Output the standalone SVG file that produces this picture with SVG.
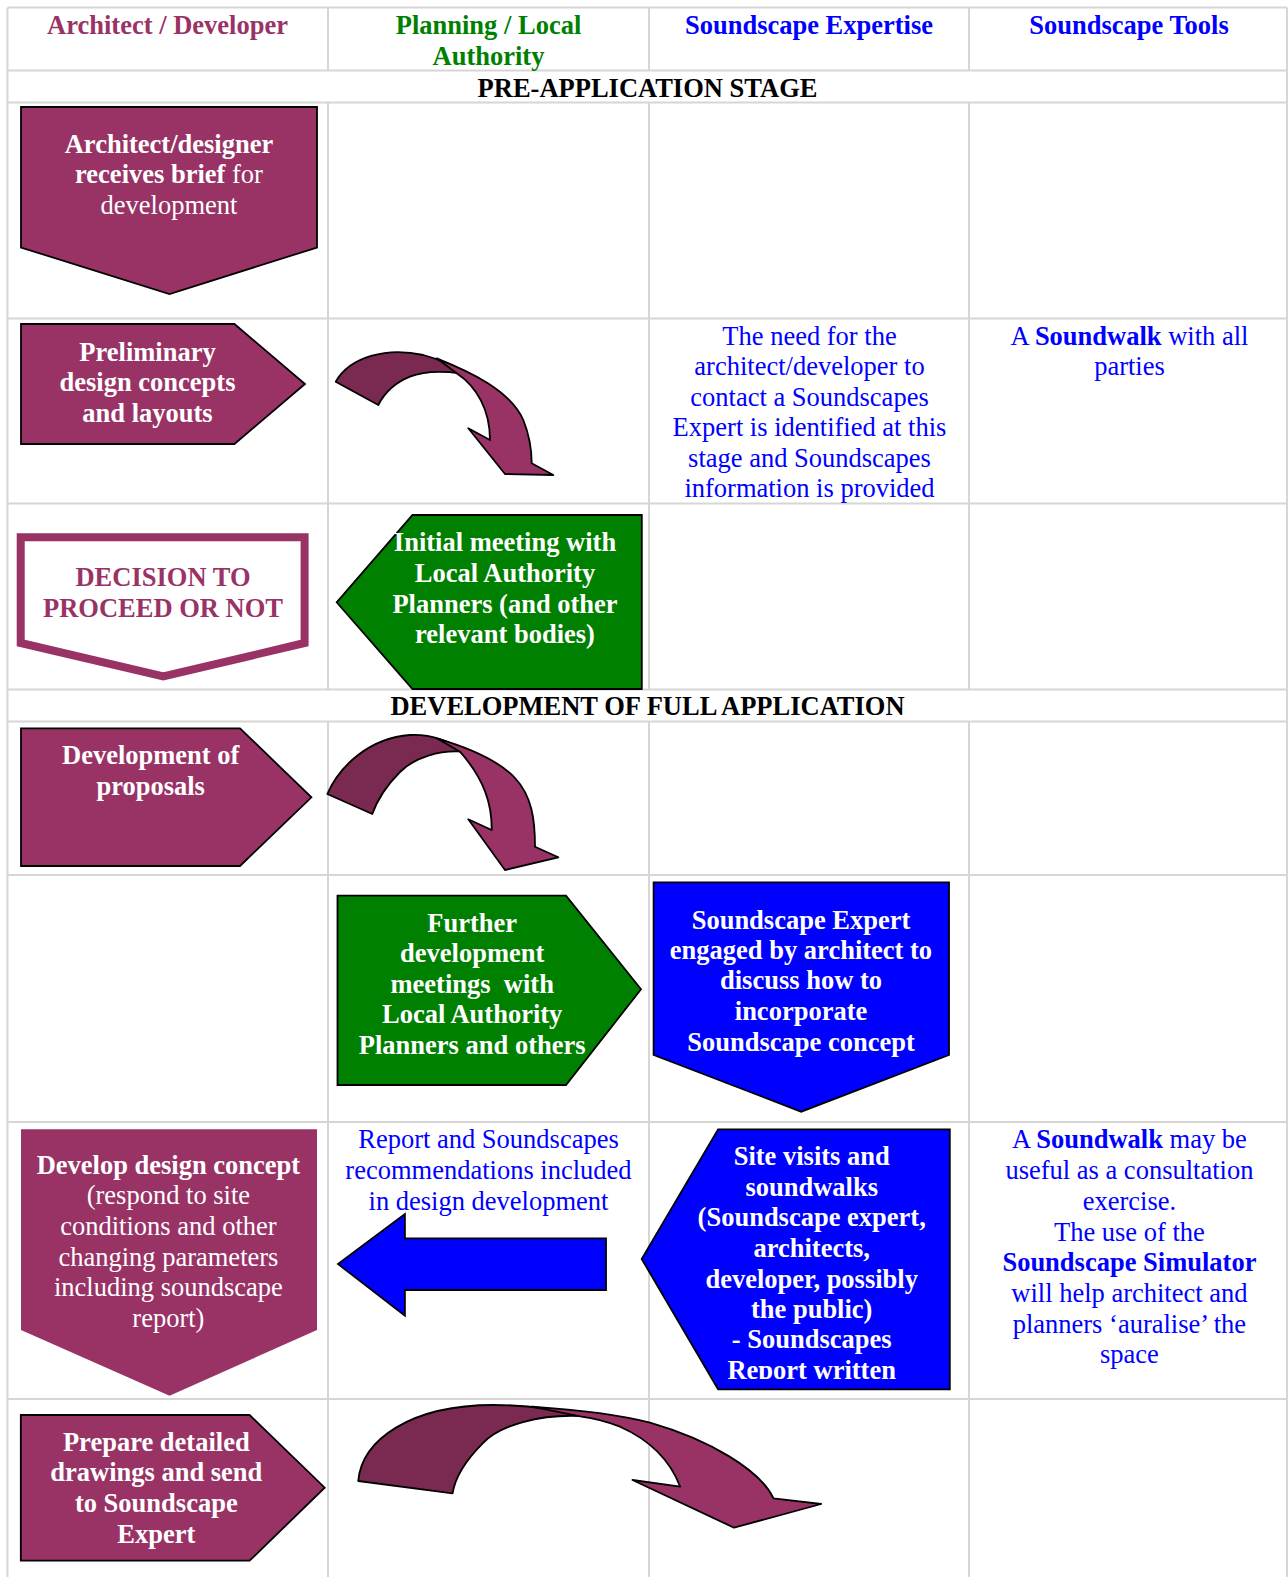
<svg xmlns="http://www.w3.org/2000/svg" width="1288" height="1577" viewBox="0 0 1288 1577">
<style>
text{font-family:"Liberation Serif","Times New Roman",serif;font-size:26.5px;text-anchor:middle}
.b{font-weight:bold}
.w{fill:#ffffff}
.m{fill:#993366}
.g{fill:#008000}
.bl{fill:#0000ff}
.k{fill:#000000}
.grid line{stroke:#d6d6d6;stroke-width:2}
.sh{stroke:#000;stroke-width:1.8;stroke-linejoin:miter}
.arr{stroke:#000;stroke-width:1.8;stroke-linejoin:round}
</style>
<defs>
<clipPath id="clipSite"><rect x="640" y="1125" width="315" height="254"/></clipPath>
</defs>
<rect x="0" y="0" width="1288" height="1577" fill="#ffffff"/>
<g id="grid" class="grid">
<line x1="7.5" y1="7.5" x2="1287" y2="7.5"/>
<line x1="7.5" y1="70.5" x2="1287" y2="70.5"/>
<line x1="7.5" y1="102.5" x2="1287" y2="102.5"/>
<line x1="7.5" y1="318.5" x2="1287" y2="318.5"/>
<line x1="7.5" y1="503.5" x2="1287" y2="503.5"/>
<line x1="7.5" y1="689.5" x2="1287" y2="689.5"/>
<line x1="7.5" y1="721.5" x2="1287" y2="721.5"/>
<line x1="7.5" y1="875" x2="1287" y2="875"/>
<line x1="7.5" y1="1122" x2="1287" y2="1122"/>
<line x1="7.5" y1="1399" x2="1287" y2="1399"/>
<line x1="7.5" y1="7.5" x2="7.5" y2="1577"/>
<line x1="1287" y1="7.5" x2="1287" y2="1577"/>
<line x1="328" y1="7.5" x2="328" y2="70.5"/>
<line x1="649" y1="7.5" x2="649" y2="70.5"/>
<line x1="969" y1="7.5" x2="969" y2="70.5"/>
<line x1="328" y1="102.5" x2="328" y2="689.5"/>
<line x1="649" y1="102.5" x2="649" y2="689.5"/>
<line x1="969" y1="102.5" x2="969" y2="689.5"/>
<line x1="328" y1="721.5" x2="328" y2="1577"/>
<line x1="649" y1="721.5" x2="649" y2="1577"/>
<line x1="969" y1="721.5" x2="969" y2="1577"/>
</g>
<g id="headers">
<text class="b m" x="167.5" y="34">Architect / Developer</text>
<text class="b g" x="488.5" y="34">Planning / Local</text>
<text class="b g" x="488.5" y="64.5">Authority</text>
<text class="b bl" x="809" y="34">Soundscape Expertise</text>
<text class="b bl" x="1129" y="34">Soundscape Tools</text>
<text class="b k" x="647.5" y="96.5">PRE-APPLICATION STAGE</text>
<text class="b k" x="647.5" y="715">DEVELOPMENT OF FULL APPLICATION</text>
</g>
<g id="connectors">
<g id="curved1">
<path class="arr" fill="#7a2950" d="M335.7,381.7 C350,356.7 386.7,346.7 423.3,355 C440,359.3 453.3,366.7 460,373.3 C446.7,371.7 426.7,370 410,376.7 C396.7,382 385,392 378.3,405 Z"/>
<path class="arr" fill="#993366" d="M436.7,358.3 C470,371.7 510,390 523.3,420 C530,436.7 531.7,450 531.7,463.3 L553.3,475 L505,474 L468.3,428.3 L490,440 C490,410 476.7,386.7 456.7,373.3 Z"/>
</g>
<g id="curved2">
<path class="arr" fill="#7a2950" d="M327.3,794 C340,765 370,738 410,735 C432,734 452,742 463,751.7 C440,750 415,757 400,772 C388,784 378,798 372.3,814 Z"/>
<path class="arr" fill="#993366" d="M436.7,738.3 C470,748 500,762 515,778 C532,796 535,820 535,846.7 L558.3,857.3 L505,870 L468.3,819.3 L491.7,830 C492,805 485,780 460,751.7 Z"/>
</g>
<g id="leftArrow">
<path class="sh" fill="#0000ff" d="M338,1264 L404.9,1214 L404.9,1238.3 L606,1238.3 L606,1290 L404.9,1290 L404.9,1315.7 Z"/>
</g>
<g id="curved3">
<path class="arr" fill="#7a2950" d="M358.2,1481 C362,1440 410,1405 493.7,1405 C530,1405 560,1410 581.5,1416 C540,1414 500,1425 482.7,1443.3 C466,1460 455,1478 452.6,1493.3 Z"/>
<path class="arr" fill="#993366" d="M532,1406.7 C580,1410 620,1415 650,1422.7 C710,1440 760,1470 773.5,1498.3 L821.2,1504 L734,1527.7 L632.5,1480 L680.2,1486.7 C670,1460 650,1440 620,1426.7 C605,1421 592,1418 581.5,1416.7 Z"/>
</g>
</g>
<g id="n-brief">
<path class="sh" fill="#993366" d="M21,107 L317,107 L317,247.5 L169.5,294 L21,247.5 Z"/>
<text class="w" x="169" y="153"><tspan class="b">Architect/designer</tspan></text>
<text class="w" x="169" y="183"><tspan class="b">receives brief</tspan> for</text>
<text class="w" x="169" y="213.5">development</text>
</g>
<g id="n-prelim">
<path class="sh" fill="#993366" d="M21,324 L234.4,324 L305,384 L234.4,444 L21,444 Z"/>
<text class="b w" x="147.5" y="361">Preliminary</text>
<text class="b w" x="147.5" y="391">design concepts</text>
<text class="b w" x="147.5" y="421.5">and layouts</text>
</g>
<g id="t-need">
<text class="bl" x="809.5" y="344.5">The need for the</text>
<text class="bl" x="809.5" y="375">architect/developer to</text>
<text class="bl" x="809.5" y="405.5">contact a Soundscapes</text>
<text class="bl" x="809.5" y="436">Expert is identified at this</text>
<text class="bl" x="809.5" y="466.7">stage and Soundscapes</text>
<text class="bl" x="809.5" y="497">information is provided</text>
</g>
<g id="t-soundwalk1">
<text class="bl" x="1129.5" y="344.5">A <tspan class="b">Soundwalk</tspan> with all</text>
<text class="bl" x="1129.5" y="375">parties</text>
</g>
<g id="n-decision">
<path fill="#ffffff" stroke="#993366" stroke-width="8" d="M20.7,537.3 L304.6,537.3 L304.6,643 L163.3,676.5 L20.7,643 Z"/>
<text class="b m" x="163" y="586">DECISION TO</text>
<text class="b m" x="163" y="616.7">PROCEED OR NOT</text>
</g>
<g id="n-initial">
<path class="sh" fill="#008000" d="M412.5,515 L641.8,515 L641.8,689 L412.5,689 L336.7,602.3 Z"/>
<text class="b w" x="505" y="551">Initial meeting with</text>
<text class="b w" x="505" y="581.7">Local Authority</text>
<text class="b w" x="505" y="612.5">Planners (and other</text>
<text class="b w" x="505" y="643.3">relevant bodies)</text>
</g>
<g id="n-proposals">
<path class="sh" fill="#993366" d="M21,728.3 L240,728.3 L311.4,797.3 L240,866 L21,866 Z"/>
<text class="b w" x="150.7" y="764.3">Development of</text>
<text class="b w" x="150.7" y="795">proposals</text>
</g>
<g id="n-further">
<path class="sh" fill="#008000" d="M337.5,895.7 L566,895.7 L641,989.3 L566,1085 L337.5,1085 Z"/>
<text class="b w" x="472.2" y="931.7">Further</text>
<text class="b w" x="472.2" y="962.3">development</text>
<text class="b w" x="472.2" y="992.7" xml:space="preserve">meetings  with</text>
<text class="b w" x="472.2" y="1023.3">Local Authority</text>
<text class="b w" x="472.2" y="1053.7">Planners and others</text>
</g>
<g id="n-engaged">
<path class="sh" fill="#0000ff" d="M653.6,882.3 L949,882.3 L949,1055 L801.2,1111.7 L653.6,1055 Z"/>
<text class="b w" x="801" y="929.3">Soundscape Expert</text>
<text class="b w" x="801" y="959.3">engaged by architect to</text>
<text class="b w" x="801" y="989.3">discuss how to</text>
<text class="b w" x="801" y="1020.3">incorporate</text>
<text class="b w" x="801" y="1051">Soundscape concept</text>
</g>
<g id="n-develop">
<path fill="#993366" d="M21,1129.3 L317,1129.3 L317,1330 L169.6,1395.7 L21,1330 Z"/>
<text class="b w" x="168.4" y="1174.3">Develop design concept</text>
<text class="w" x="168.4" y="1204.3">(respond to site</text>
<text class="w" x="168.4" y="1235">conditions and other</text>
<text class="w" x="168.4" y="1266">changing parameters</text>
<text class="w" x="168.4" y="1296">including soundscape</text>
<text class="w" x="168.4" y="1327">report)</text>
</g>
<g id="t-report">
<text class="bl" x="488.5" y="1148.3">Report and Soundscapes</text>
<text class="bl" x="488.5" y="1179.3">recommendations included</text>
<text class="bl" x="488.5" y="1210">in design development</text>
</g>
<g id="n-site">
<path class="sh" fill="#0000ff" d="M718.1,1129.3 L949.8,1129.3 L949.8,1389.3 L718.1,1389.3 L641.7,1259 Z"/>
<g clip-path="url(#clipSite)">
<text class="b w" x="811.7" y="1165">Site visits and</text>
<text class="b w" x="811.7" y="1196">soundwalks</text>
<text class="b w" x="811.7" y="1226">(Soundscape expert,</text>
<text class="b w" x="811.7" y="1257">architects,</text>
<text class="b w" x="811.7" y="1287.7">developer, possibly</text>
<text class="b w" x="811.7" y="1318.3">the public)</text>
<text class="b w" x="811.7" y="1348.3">- Soundscapes</text>
<text class="b w" x="811.7" y="1379.3">Report written</text>
</g>
</g>
<g id="t-soundwalk2">
<text class="bl" x="1129.4" y="1148.3">A <tspan class="b">Soundwalk</tspan> may be</text>
<text class="bl" x="1129.4" y="1179.3">useful as a consultation</text>
<text class="bl" x="1129.4" y="1210">exercise.</text>
<text class="bl" x="1129.4" y="1241">The use of the</text>
<text class="b bl" x="1129.4" y="1271">Soundscape Simulator</text>
<text class="bl" x="1129.4" y="1301.7">will help architect and</text>
<text class="bl" x="1129.4" y="1332.7">planners ‘auralise’ the</text>
<text class="bl" x="1129.4" y="1363.3">space</text>
</g>
<g id="n-prepare">
<path class="sh" fill="#993366" d="M20.8,1415 L249.6,1415 L324.7,1487.7 L249.6,1560.7 L20.8,1560.7 Z"/>
<text class="b w" x="156.3" y="1451">Prepare detailed</text>
<text class="b w" x="156.3" y="1481">drawings and send</text>
<text class="b w" x="156.3" y="1511.7">to Soundscape</text>
<text class="b w" x="156.3" y="1542.7">Expert</text>
</g>
</svg>
